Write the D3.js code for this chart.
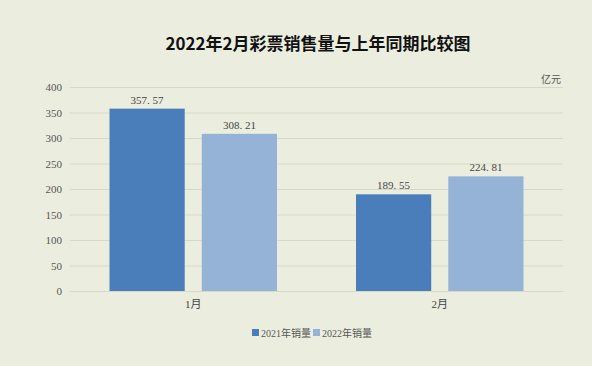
<!DOCTYPE html>
<html><head><meta charset="utf-8">
<script src="https://cdn.jsdelivr.net/npm/d3@7"></script>
<style>body{margin:0;background:#ebeedf;}svg{display:block;}</style>
</head><body>
<svg id="c" width="592" height="366"></svg>
<script>
const categories = ["1月", "2月"];
const seriesNames = ["2021年销量", "2022年销量"];
const sales2021 = [357.57, 189.55];
const sales2022 = [308.21, 224.81];
const yTicks = [0, 50, 100, 150, 200, 250, 300, 350, 400];
const colors = ["#4a7ebb", "#95b3d7"];

const svg = d3.select("#c");
svg.append("rect").attr("width", 592).attr("height", 366).attr("fill", "#ebeedf");
const m = {l: 70, r: 29, t: 87, b: 75};
const W = 592 - m.l - m.r, H = 366 - m.t - m.b;
const g = svg.append("g").attr("transform", `translate(${m.l},${m.t})`);

const x = d3.scaleBand().domain(categories).range([0, W]).paddingInner(0).paddingOuter(0);
const x1 = d3.scaleBand().domain([0, 1]).range([39.5, x.bandwidth() - 39.5]).paddingInner(0.185);
const y = d3.scaleLinear().domain([0, 400]).range([H, 0]);

const yAxis = d3.axisLeft(y).tickValues(yTicks).tickSize(-W).tickPadding(8);
g.append("g").call(yAxis).call(s => {
  s.select(".domain").remove();
  s.selectAll(".tick line").attr("stroke", "#d6d9c9").attr("stroke-width", 1);
  s.selectAll(".tick text").attr("fill", "#555").style("font-family", "'Liberation Serif', serif").style("font-size", "11px");
});

const data = categories.map((c, i) => ({c, v: [sales2021[i], sales2022[i]]}));
const grp = g.selectAll(".grp").data(data).enter().append("g").attr("transform", d => `translate(${x(d.c)},0)`);
grp.selectAll("rect").data(d => d.v).enter().append("rect")
  .attr("x", (d, i) => x1(i)).attr("width", x1.bandwidth())
  .attr("y", d => y(d)).attr("height", d => H - y(d))
  .attr("fill", (d, i) => colors[i]);
grp.selectAll("text.val").data(d => d.v).enter().append("text").attr("class", "val")
  .attr("x", (d, i) => x1(i) + x1.bandwidth() / 2).attr("y", d => y(d) - 5)
  .attr("text-anchor", "middle").attr("fill", "#444")
  .style("font-family", "'Liberation Serif', serif").style("font-size", "11px")
  .text(d => d.toFixed(2).replace(".", ". "));

const xAxis = d3.axisBottom(x).tickSize(0).tickPadding(9);
g.append("g").attr("transform", `translate(0,${H})`).call(xAxis).call(s => {
  s.select(".domain").attr("stroke", "#d6d9c9");
  s.selectAll(".tick text").attr("fill", "#444").style("font-family", "'Liberation Serif', 'Noto Sans CJK SC', serif").style("font-size", "11px");
});

svg.append("text").attr("x", 318).attr("y", 50).attr("text-anchor", "middle")
  .attr("fill", "#111").style("font-family", "'Noto Sans CJK SC', sans-serif").style("font-weight", "bold").style("font-size", "17px")
  .text("2022年2月彩票销售量与上年同期比较图");
svg.append("text").attr("x", 541).attr("y", 83).attr("fill", "#555")
  .style("font-family", "'Noto Sans CJK SC', serif").style("font-size", "10px").text("亿元");

const lg = svg.append("g").attr("transform", "translate(252,333)");
let lx = 0;
seriesNames.forEach((n, i) => {
  lg.append("rect").attr("x", lx).attr("y", -4).attr("width", 7).attr("height", 7).attr("fill", colors[i]);
  const t = lg.append("text").attr("x", lx + 9).attr("y", 3.5).attr("fill", "#555")
    .style("font-family", "'Liberation Serif', 'Noto Sans CJK SC', serif").style("font-size", "10px").text(n);
  lx += 9 + t.node().getComputedTextLength() + 2;
});
</script>
</body></html>
